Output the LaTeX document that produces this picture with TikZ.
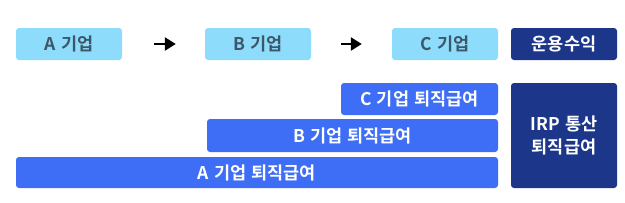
\documentclass[tikz,border=0pt]{standalone}
\usepackage{fontspec}
\setmainfont{Noto Sans CJK KR}[BoldFont={Noto Sans CJK KR Bold},WordSpace=1.3]
\usetikzlibrary{arrows.meta}
\definecolor{lightc}{HTML}{8EDCFC}
\definecolor{lighttxt}{HTML}{3D5668}
\definecolor{navy}{HTML}{1C378A}
\definecolor{bluec}{HTML}{3F6EF6}
\begin{document}
\begin{tikzpicture}[x=1pt,y=-1pt,
  box/.style={rounded corners=3pt, inner sep=0pt, font=\fontsize{17.5}{20}\selectfont\bfseries},
  lbox/.style={box, fill=lightc, text=lighttxt},
  nbox/.style={box, fill=navy, text=white},
  bbox/.style={box, fill=bluec, text=white},
  flow/.style={line width=2.5pt, -{Triangle[length=11pt,width=13pt]}}]
\useasboundingbox (0,0) rectangle (625,202);
\node[lbox, minimum width=106pt, minimum height=32pt] (a) at (69,44) {A 기업};
\node[lbox, minimum width=106pt, minimum height=32pt] (b) at (258,44) {B 기업};
\node[lbox, minimum width=106pt, minimum height=32pt] (c) at (445,44) {C 기업};
\node[nbox, minimum width=106pt, minimum height=32pt] (r) at (564,44) {운용수익};
\node[bbox, minimum width=157pt, minimum height=32pt] (cp) at (419.5,99) {C 기업 퇴직급여};
\node[bbox, minimum width=291pt, minimum height=33pt] (bp) at (352.5,135.5) {B 기업 퇴직급여};
\node[bbox, minimum width=482pt, minimum height=31pt] (ap) at (257,172.5) {A 기업 퇴직급여};
\node[nbox, minimum width=106pt, minimum height=105pt, align=center,
  font=\fontsize{17.5}{23}\selectfont\bfseries] (irp) at (564,135.5) {IRP 통산\\퇴직급여};
\draw[flow, shorten <=32pt, shorten >=29pt] (a) -- (b);
\draw[flow, shorten <=30pt, shorten >=30pt] (b) -- (c);
\end{tikzpicture}
\end{document}
